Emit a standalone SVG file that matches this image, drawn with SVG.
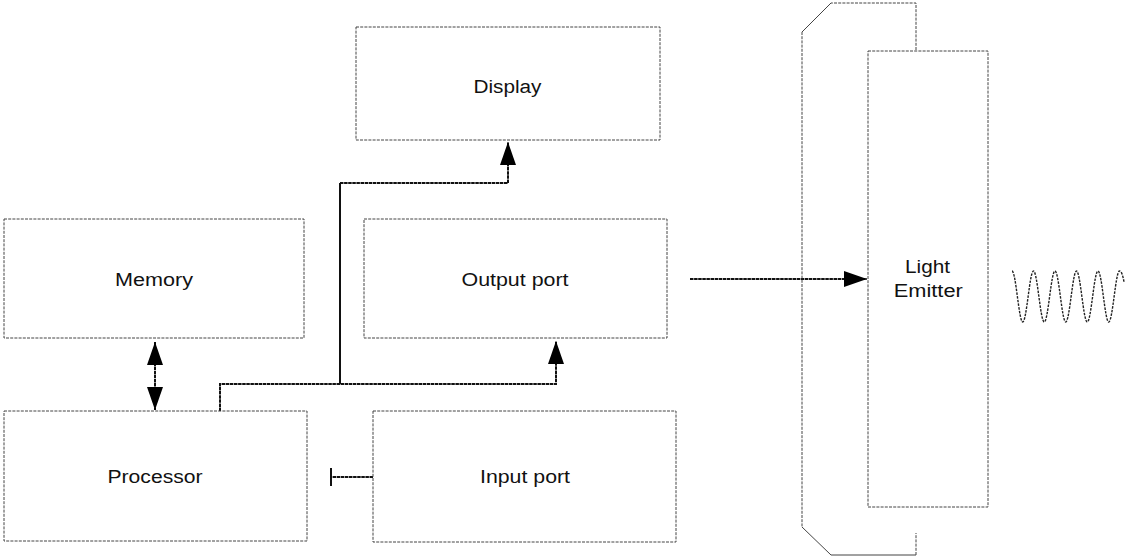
<svg xmlns="http://www.w3.org/2000/svg" width="1129" height="556" viewBox="0 0 1129 556">
  <style>
    .box { fill: none; stroke: #444; stroke-width: 1; stroke-dasharray: 3 1.2; }
    .edge { fill: none; stroke: #444; stroke-width: 1; }
    .wire { fill: none; stroke: #111; stroke-width: 2; stroke-dasharray: 3.5 0.6; }
    .solid { fill: none; stroke: #111; stroke-width: 2; }
    .label { font-family: "Liberation Sans", Arial, sans-serif; font-size: 18px; fill: #111; text-anchor: middle; }
    .wave { fill: none; stroke: #222; stroke-width: 1.4; stroke-dasharray: 2.5 1.2; }
  </style>
  <defs>
    <marker id="arrow" markerUnits="userSpaceOnUse" viewBox="0 0 23 16" refX="23" refY="8" markerWidth="23" markerHeight="16" orient="auto-start-reverse">
      <path d="M0,0 L23,8 L0,16 Z" fill="#000"/>
    </marker>
  </defs>

  <rect width="1129" height="556" fill="#fff"/>

  <!-- connectors -->
  <g id="connectors">
    <!-- memory <-> processor -->
    <path class="wire" d="M155,342 V410" marker-start="url(#arrow)" marker-end="url(#arrow)"/>
    <!-- processor bus to output port -->
    <path class="wire" d="M220,411 V384 H556 V341" marker-end="url(#arrow)"/>
    <!-- bus branch to display -->
    <path class="solid" d="M340,384 V183"/>
    <path class="wire" d="M340,183 H508 V142" marker-end="url(#arrow)"/>
    <!-- input port to processor -->
    <path class="wire" d="M373,477 H331"/>
    <path class="solid" d="M331,468 V486"/>
    <!-- output signal to light emitter -->
    <path class="wire" d="M690,279 H867" marker-end="url(#arrow)"/>
  </g>

  <g id="display">
    <rect class="box" x="356" y="27" width="304" height="113"/>
    <text class="label" x="507.5" y="93" textLength="68" lengthAdjust="spacingAndGlyphs">Display</text>
  </g>

  <g id="memory">
    <rect class="box" x="4" y="219" width="300" height="119"/>
    <text class="label" x="154" y="286" textLength="78" lengthAdjust="spacingAndGlyphs">Memory</text>
  </g>

  <g id="output-port">
    <rect class="box" x="364" y="219" width="303" height="119"/>
    <text class="label" x="515" y="286" textLength="107" lengthAdjust="spacingAndGlyphs">Output port</text>
  </g>

  <g id="processor">
    <rect class="box" x="4" y="411" width="303" height="130"/>
    <text class="label" x="155" y="483" textLength="95" lengthAdjust="spacingAndGlyphs">Processor</text>
  </g>

  <g id="input-port">
    <rect class="box" x="373" y="411" width="303" height="131"/>
    <text class="label" x="525" y="483" textLength="90" lengthAdjust="spacingAndGlyphs">Input port</text>
  </g>

  <g id="housing">
    <path class="box" d="M916,50 V3 H831"/>
    <path class="edge" d="M831,3 L802,32"/>
    <path class="box" d="M802,32 V527"/>
    <path class="edge" d="M802,527 L831,555 H916"/>
    <path class="box" d="M916,555 V533"/>
  </g>

  <g id="light-emitter">
    <rect class="box" x="868" y="51" width="120" height="456"/>
    <text class="label" x="927.5" y="273" textLength="45" lengthAdjust="spacingAndGlyphs">Light</text>
    <text class="label" x="928.3" y="297" textLength="69" lengthAdjust="spacingAndGlyphs">Emitter</text>
  </g>

  <g id="light-wave">
    <path class="wave" d="M1012,271 c3.91,0 6.84,51 10.75,51 c3.91,0 6.84,-51 10.75,-51 c3.91,0 6.84,51 10.75,51 c3.91,0 6.84,-51 10.75,-51 c3.91,0 6.84,51 10.75,51 c3.91,0 6.84,-51 10.75,-51 c3.91,0 6.84,51 10.75,51 c3.91,0 6.84,-51 10.75,-51 c3.91,0 6.84,51 10.75,51 c3.91,0 6.84,-51 10.75,-51 c2,0 3.5,5 4.5,11"/>
  </g>
</svg>
